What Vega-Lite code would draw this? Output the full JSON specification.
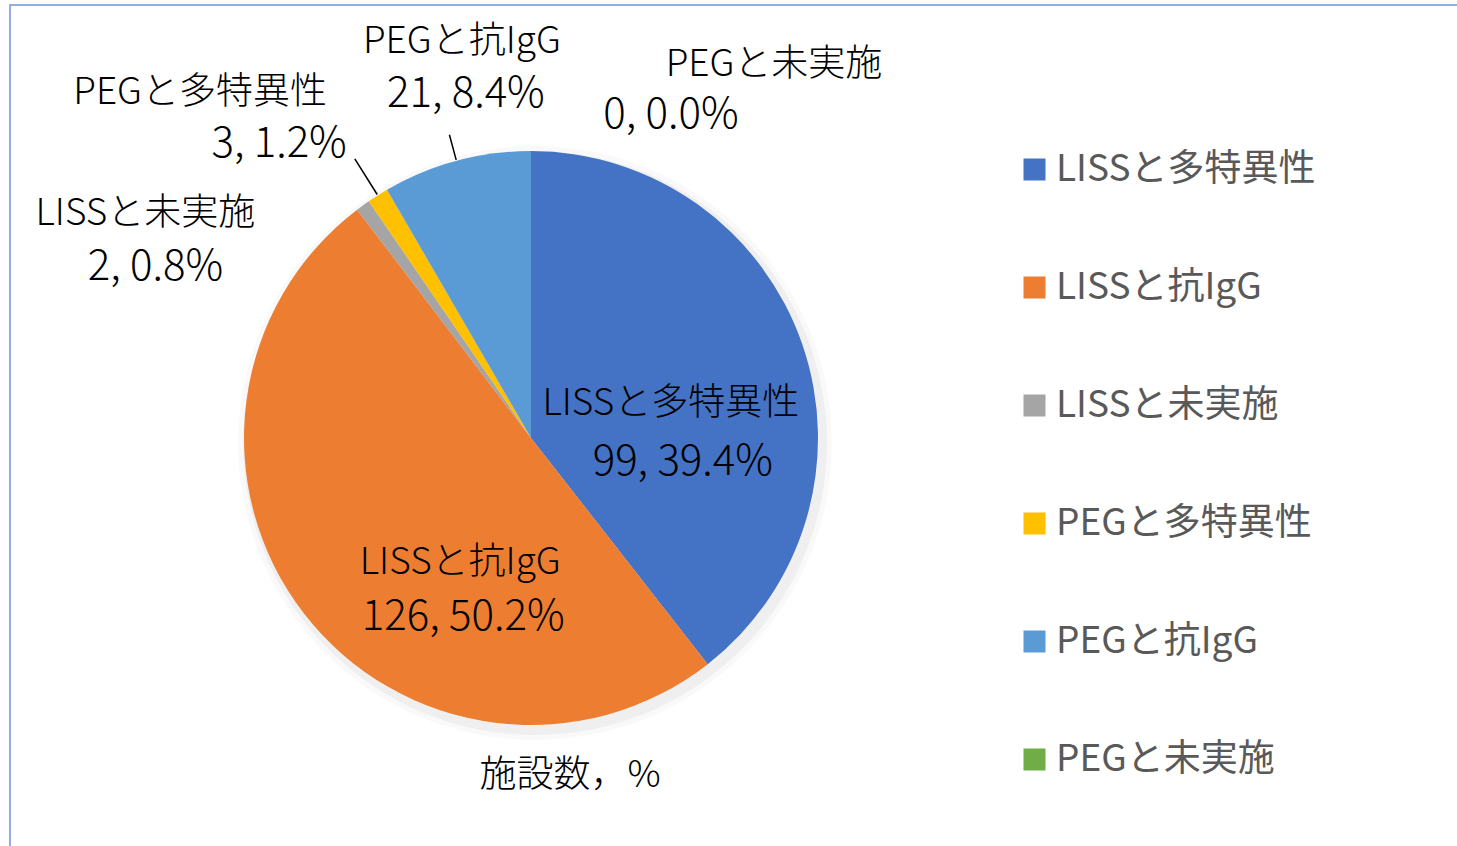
{
  "$schema": "https://vega.github.io/schema/vega-lite/v6.json",
  "width": 1452,
  "height": 846,
  "autosize": {"type": "none"},
  "padding": {"left": 10, "top": 5, "right": 0, "bottom": 0},
  "background": "white",
  "view": {"stroke": "#7094d6", "strokeWidth": 1.5, "fill": "white"},
  "config": {
    "view": {"stroke": "#7094d6", "strokeWidth": 1.5},
    "text": {"font": "Noto Sans CJK JP", "fontSize": 37, "fontWeight": 300, "color": "#000000"}
  },
  "data": {
    "values": [
      {"order": 1, "name": "LISSと多特異性", "count": 99, "value": "99, 39.4%"},
      {"order": 2, "name": "LISSと抗IgG", "count": 126, "value": "126, 50.2%"},
      {"order": 3, "name": "LISSと未実施", "count": 2, "value": "2, 0.8%"},
      {"order": 4, "name": "PEGと多特異性", "count": 3, "value": "3, 1.2%"},
      {"order": 5, "name": "PEGと抗IgG", "count": 21, "value": "21, 8.4%"},
      {"order": 6, "name": "PEGと未実施", "count": 0, "value": "0, 0.0%"}
    ]
  },
  "encoding": {
    "theta": {"field": "count", "type": "quantitative", "stack": true},
    "order": {"field": "order", "type": "quantitative"}
  },
  "layer": [
    {
      "transform": [{"filter": "datum.order == 1"}],
      "mark": {"type": "arc", "x": 525, "y": 438, "radius": 297, "theta": 0, "theta2": 6.2832, "fill": "#000000", "opacity": 0.025},
      "encoding": {"theta": null, "order": null}
    },
    {
      "transform": [{"filter": "datum.order == 1"}],
      "mark": {"type": "arc", "x": 525, "y": 438, "radius": 292, "theta": 0, "theta2": 6.2832, "fill": "#000000", "opacity": 0.04},
      "encoding": {"theta": null, "order": null}
    },
    {
      "mark": {"type": "arc", "x": 521, "y": 433, "radius": 287},
      "encoding": {
        "color": {
          "field": "name",
          "type": "nominal",
          "sort": ["LISSと多特異性", "LISSと抗IgG", "LISSと未実施", "PEGと多特異性", "PEGと抗IgG", "PEGと未実施"],
          "scale": {
            "domain": ["LISSと多特異性", "LISSと抗IgG", "LISSと未実施", "PEGと多特異性", "PEGと抗IgG", "PEGと未実施"],
            "range": ["#4472C4", "#ED7D31", "#A5A5A5", "#FFC000", "#5B9BD5", "#70AD47"]
          },
          "legend": {
            "title": null,
            "orient": "none",
            "legendX": 1006,
            "legendY": 146,
            "symbolType": "square",
            "symbolSize": 484,
            "symbolStrokeWidth": 0,
            "symbolOpacity": 1,
            "labelFont": "Noto Sans CJK JP",
            "labelFontSize": 37,
            "labelFontWeight": 400,
            "labelColor": "#595959",
            "labelOffset": 3,
            "rowPadding": 80,
            "labelLimit": 400
          }
        }
      }
    },
    {
      "mark": {"type": "arc", "x": 521, "y": 433, "radius2": 288, "radius": 314, "padAngle": 0.6, "fillOpacity": 0, "stroke": "#000000", "strokeWidth": 1.5},
      "encoding": {"strokeOpacity": {"condition": {"test": "datum.order == 5", "value": 1}, "value": 0}}
    },
    {
      "mark": {"type": "arc", "x": 521, "y": 433, "radius2": 288, "radius": 330, "padAngle": 0.6, "fillOpacity": 0, "stroke": "#000000", "strokeWidth": 1.5},
      "encoding": {"strokeOpacity": {"condition": {"test": "datum.order == 4", "value": 1}, "value": 0}}
    },
    {
      "mark": {"type": "text", "x": 521, "y": 433, "radius": 150, "dx": -2, "dy": 15, "align": "center", "baseline": "middle"},
      "encoding": {"text": {"condition": {"test": "datum.order == 1", "field": "name"}, "value": ""}}
    },
    {
      "mark": {"type": "text", "x": 521, "y": 433, "radius": 150, "dx": 10, "dy": 73, "align": "center", "baseline": "middle", "fontSize": 42},
      "encoding": {"text": {"condition": {"test": "datum.order == 1", "field": "value"}, "value": ""}}
    },
    {
      "mark": {"type": "text", "x": 521, "y": 433, "radius": 150, "dx": 48, "dy": 33, "align": "center", "baseline": "middle"},
      "encoding": {"text": {"condition": {"test": "datum.order == 2", "field": "name"}, "value": ""}}
    },
    {
      "mark": {"type": "text", "x": 521, "y": 433, "radius": 150, "dx": 51, "dy": 87, "align": "center", "baseline": "middle", "fontSize": 42},
      "encoding": {"text": {"condition": {"test": "datum.order == 2", "field": "value"}, "value": ""}}
    },
    {
      "mark": {"type": "text", "x": 521, "y": 433, "radius": 380, "dx": -163, "dy": 84, "align": "center", "baseline": "middle"},
      "encoding": {"text": {"condition": {"test": "datum.order == 3", "field": "name"}, "value": ""}}
    },
    {
      "mark": {"type": "text", "x": 521, "y": 433, "radius": 380, "dx": -153, "dy": 137, "align": "center", "baseline": "middle", "fontSize": 42},
      "encoding": {"text": {"condition": {"test": "datum.order == 3", "field": "value"}, "value": ""}}
    },
    {
      "mark": {"type": "text", "x": 521, "y": 433, "radius": 380, "dx": -128, "dy": -24, "align": "center", "baseline": "middle"},
      "encoding": {"text": {"condition": {"test": "datum.order == 4", "field": "name"}, "value": ""}}
    },
    {
      "mark": {"type": "text", "x": 521, "y": 433, "radius": 380, "dx": -49, "dy": 27, "align": "center", "baseline": "middle", "fontSize": 42},
      "encoding": {"text": {"condition": {"test": "datum.order == 4", "field": "value"}, "value": ""}}
    },
    {
      "mark": {"type": "text", "x": 521, "y": 433, "radius": 370, "dx": 27, "dy": -39, "align": "center", "baseline": "middle"},
      "encoding": {"text": {"condition": {"test": "datum.order == 5", "field": "name"}, "value": ""}}
    },
    {
      "mark": {"type": "text", "x": 521, "y": 433, "radius": 370, "dx": 31, "dy": 13, "align": "center", "baseline": "middle", "fontSize": 42},
      "encoding": {"text": {"condition": {"test": "datum.order == 5", "field": "value"}, "value": ""}}
    },
    {
      "mark": {"type": "text", "x": 521, "y": 433, "radius": 340, "dx": 243, "dy": -33, "align": "center", "baseline": "middle"},
      "encoding": {"text": {"condition": {"test": "datum.order == 6", "field": "name"}, "value": ""}}
    },
    {
      "mark": {"type": "text", "x": 521, "y": 433, "radius": 340, "dx": 140, "dy": 17, "align": "center", "baseline": "middle", "fontSize": 42},
      "encoding": {"text": {"condition": {"test": "datum.order == 6", "field": "value"}, "value": ""}}
    },
    {
      "transform": [{"filter": "datum.order == 1"}],
      "mark": {"type": "text", "x": 521, "y": 433, "radius": 338, "theta": 3.1416, "dx": 39, "align": "center", "baseline": "middle"},
      "encoding": {"theta": null, "order": null, "text": {"value": "施設数，%"}}
    }
  ]
}
